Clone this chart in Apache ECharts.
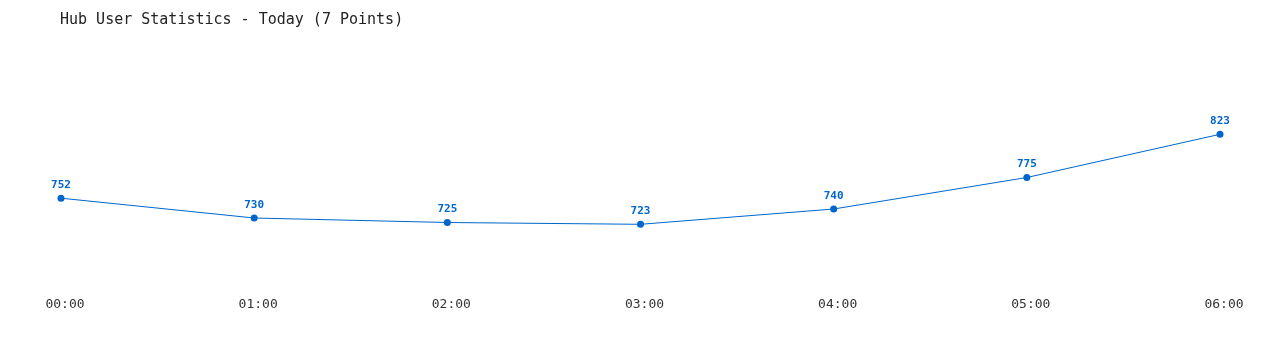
<!DOCTYPE html>
<html>
<head>
<meta charset="utf-8">
<script src="https://cdn.jsdelivr.net/npm/echarts@6/dist/echarts.min.js"></script>
<style>
html,body{margin:0;padding:0;background:#fff;}
#chart{width:1280px;height:350px;}
</style>
</head>
<body>
<div id="chart"></div>
<script>
var categories = ['00:00', '01:00', '02:00', '03:00', '04:00', '05:00', '06:00'];
var users = [752, 730, 725, 723, 740, 775, 823];
var yMin = 650;
var yMax = 900;

var chart = echarts.init(document.getElementById('chart'), null, {renderer: 'canvas'});
chart.setOption({
  animation: false,
  backgroundColor: '#ffffff',
  title: {
    text: 'Hub User Statistics - Today (7 Points)',
    left: 55,
    top: 8,
    textStyle: {
      fontFamily: 'DejaVu Sans Mono',
      fontSize: 15,
      fontWeight: 'normal',
      color: '#222222'
    }
  },
  grid: {
    left: 61,
    right: 60,
    top: 65,
    bottom: 60,
    containLabel: false
  },
  xAxis: {
    type: 'category',
    data: categories,
    boundaryGap: false,
    axisLine: {show: false},
    axisTick: {show: false},
    splitLine: {show: false},
    axisLabel: {
      fontFamily: 'DejaVu Sans Mono',
      fontSize: 13,
      color: '#333333',
      margin: 8,
      padding: [0, 0, 0, 8]
    }
  },
  yAxis: {
    type: 'value',
    min: yMin,
    max: yMax,
    show: false,
    splitLine: {show: false}
  },
  series: [{
    type: 'line',
    data: users,
    symbol: 'circle',
    symbolSize: 7,
    lineStyle: {color: '#0066cc', width: 1},
    itemStyle: {color: '#0066cc'},
    label: {
      show: true,
      position: 'top',
      distance: 4,
      fontFamily: 'DejaVu Sans Mono',
      fontSize: 11,
      fontWeight: 'bold',
      color: '#0066cc'
    }
  }]
});
</script>
</body>
</html>
